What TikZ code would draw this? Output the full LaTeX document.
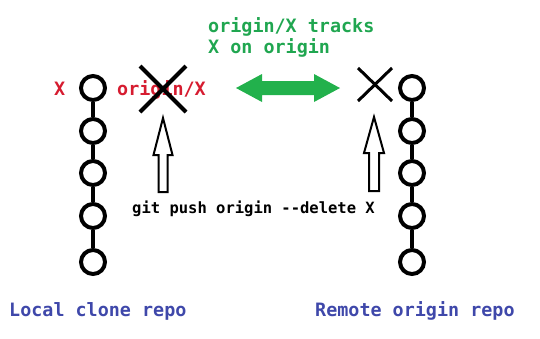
\documentclass[tikz,border=0pt]{standalone}
\usepackage{fontspec}
\newfontfamily\monofnt{DejaVu Sans Mono}
\definecolor{pgreen}{RGB}{34,177,76}
\definecolor{tgreen}{RGB}{32,166,80}
\definecolor{tred}{RGB}{214,28,48}
\definecolor{tblue}{RGB}{63,72,170}
\tikzset{
  commit/.style={circle,draw=black,line width=4pt,minimum size=24pt,inner sep=0pt,fill=white},
  link/.style={line width=4pt},
  bigtxt/.style={font=\monofnt\bfseries\fontsize{18.4pt}{20pt}\selectfont,anchor=base west,inner sep=0pt},
  cmdtxt/.style={font=\monofnt\bfseries\fontsize{15.5pt}{17pt}\selectfont,anchor=base west,inner sep=0pt},
  hollow/.style={draw=black,line width=2pt,fill=white,line join=miter},
}
\begin{document}
\begin{tikzpicture}[x=1pt,y=-1pt]
\useasboundingbox (0,0) rectangle (540,338);
% local chain
\foreach \i/\yy in {1/88,2/131,3/173,4/216,5/262}{
  \node[commit] (l\i) at (93,\yy) {};
  \node[commit] (r\i) at (412,\yy) {};
}
\foreach \a/\b in {1/2,2/3,3/4,4/5}{
  \draw[link] (l\a) -- (l\b);
  \draw[link] (r\a) -- (r\b);
}
% texts
\node[bigtxt,text=tgreen] (t1) at (208,32) {origin/X tracks};
\node[bigtxt,text=tgreen] (t2) at (208,53) {X on origin};
\node[bigtxt,text=tred] (lx) at (54,95) {X};
\node[bigtxt,text=tred] (lo) at (117,95) {origin/X};
\node[cmdtxt,text=black] (cmd) at (132,213) {git push origin --delete X};
\node[bigtxt,text=tblue] (loc) at (9,316) {Local clone repo};
\node[bigtxt,text=tblue] (rem) at (315,316) {Remote origin repo};
% crosses
\draw[line width=4pt] (140,66) -- (186,112);
\draw[line width=4pt] (186,66) -- (140,112);
\draw[line width=3pt] (358,68) -- (392,101);
\draw[line width=3pt] (392,68) -- (358,101);
% green double arrow
\fill[pgreen] (236,88) -- (262,74) -- (262,81) -- (314,81) -- (314,74) -- (340,88)
  -- (314,102) -- (314,95) -- (262,95) -- (262,102) -- cycle;
% hollow arrows
\draw[hollow] (163,118) -- (172.5,155) -- (167.5,155) -- (167.5,192) -- (158.5,192) -- (158.5,155) -- (153.5,155) -- cycle;
\draw[hollow] (374,117) -- (384,153) -- (379,153) -- (379,191) -- (369,191) -- (369,153) -- (364,153) -- cycle;
\end{tikzpicture}
\end{document}
